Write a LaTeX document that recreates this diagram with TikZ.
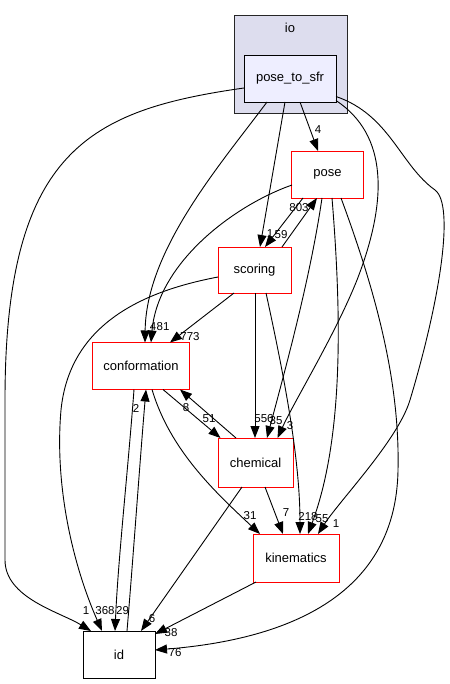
\documentclass[tikz,border=0pt]{standalone}
\usepackage{fontspec}
\setmainfont{Liberation Sans}
\usetikzlibrary{arrows.meta,calc}
\definecolor{clusterfill}{HTML}{DDDDEE}
\definecolor{ptsfrfill}{HTML}{EEEEFF}
\begin{document}
\begin{tikzpicture}[x=1pt,y=-1pt,
  dirbox/.style={draw=red, fill=white, line width=0.9pt, inner sep=0pt, minimum height=47pt, font=\fontsize{13}{15}\selectfont},
  plainbox/.style={draw=black, fill=white, line width=0.9pt, inner sep=0pt, minimum height=47pt, font=\fontsize{13}{15}\selectfont},
  edge/.style={line width=0.9pt, -{Triangle[length=12pt,width=9pt]}},
  lbl/.style={font=\fontsize{11.5}{13}\selectfont, inner sep=0pt}]
\useasboundingbox (0,0) rectangle (449,684);
% cluster
\node[draw=black!85, fill=clusterfill, line width=0.9pt, minimum width=113pt, minimum height=98pt, inner sep=0pt] (io) at (290.5,64) {};
\node[font=\fontsize{13}{15}\selectfont, inner sep=0pt] (iolabel) at (290,28) {io};
\node[plainbox, fill=ptsfrfill, minimum width=92pt] (ptsfr) at (290,78.5) {pose\_to\_sfr};
% nodes
\node[dirbox, minimum width=72pt] (pose) at (327.5,174.5) {pose};
\node[dirbox, minimum width=73pt, minimum height=46pt] (scoring) at (254.5,270) {scoring};
\node[dirbox, minimum width=97pt] (conf) at (141,366) {conformation};
\node[dirbox, minimum width=75pt, minimum height=49pt] (chem) at (255.5,462.5) {chemical};
\node[dirbox, minimum width=86pt, minimum height=48pt] (kin) at (296,558) {kinematics};
\node[plainbox, minimum width=72pt] (id) at (119,654.5) {id};
% edges
\draw[edge] ($(ptsfr)+(-46,9.5)$) .. controls (90,110) and (5,150) .. (5,400) -- (5,560) .. controls (5,598) and (60,612) .. ($(id)+(-28,-23.5)$);
\draw[edge] ($(ptsfr)+(10,23.5)$) -- ($(pose)+(-9.5,-23.5)$);
\draw[edge] ($(ptsfr)+(-5,23.5)$) -- ($(scoring)+(5.5,-23)$);
\draw[edge] ($(ptsfr)+(-23,23.5)$) .. controls (220,165) and (146,250) .. ($(conf)+(4,-23.5)$);
\draw[edge] ($(pose)+(-35.5,10.5)$) .. controls (235,205) and (158,262) .. ($(conf)+(10,-23.5)$);
\draw[edge] ($(scoring)+(-20.5,23)$) -- ($(conf)+(29,-23.5)$);
\draw[edge] ($(scoring)+(-36.5,7)$) .. controls (150,290) and (70,320) .. (61,410) .. controls (54,490) and (75,570) .. ($(id)+(-17,-23.5)$);
\draw[edge] ($(conf)+(-7,23.5)$) .. controls (128,470) and (118,560) .. ($(id)+(-4,-23.5)$);
\draw[edge] ($(id)+(8,-23.5)$) .. controls (133,560) and (140,460) .. ($(conf)+(5,23.5)$);
\draw[edge] ($(conf)+(22,23.5)$) -- ($(chem)+(-35,-24.5)$);
\draw[edge] ($(chem)+(-19.5,-24.5)$) -- ($(conf)+(39,23.5)$);
\draw[edge] ($(conf)+(11,23.5)$) .. controls (170,450) and (215,492) .. ($(kin)+(-36,-24)$);
\draw[edge] ($(chem)+(-13.5,24.5)$) -- ($(id)+(22,-23.5)$);
\draw[edge] ($(chem)+(9.5,24.5)$) -- ($(kin)+(-13,-24)$);
\draw[edge] ($(kin)+(-40,24)$) -- ($(id)+(36,-20.5)$);
\draw[edge] ($(pose)+(13.5,23.5)$) .. controls (375,290) and (400,380) .. (398,470) .. controls (396,600) and (280,640) .. ($(id)+(36,-4.5)$);
\draw[edge] ($(pose)+(4.5,23.5)$) .. controls (342,320) and (343,440) .. ($(kin)+(12,-24)$);
\draw[edge] ($(pose)+(-5.5,23.5)$) .. controls (310,280) and (285,370) .. ($(chem)+(11.5,-24.5)$);
\draw[edge] ($(pose)+(-24.5,23.5)$) -- ($(scoring)+(10.5,-23)$);
\draw[edge] ($(scoring)+(27.5,-23)$) -- ($(pose)+(-10.5,23.5)$);
\draw[edge] ($(scoring)+(0.5,23)$) -- ($(chem)+(-0.5,-24.5)$);
\draw[edge] ($(scoring)+(11.5,23)$) .. controls (285,380) and (300,460) .. ($(kin)+(4,-24)$);
\draw[edge] ($(ptsfr)+(46,22)$) .. controls (388,135) and (388,200) .. (357,280) .. controls (335,335) and (295,400) .. ($(chem)+(22,-24.5)$);
\draw[edge] ($(ptsfr)+(46,18)$) .. controls (390,115) and (400,165) .. (435,190) .. controls (455,205) and (440,300) .. (410,400) .. controls (398,440) and (340,500) .. ($(kin)+(22,-24)$);
% labels
\node[lbl] (l1) at (86,611) {1};
\node[lbl] (l2) at (318,130) {4};
\node[lbl] (l3) at (270,234) {1};
\node[lbl] (l4) at (281,235) {59};
\node[lbl] (l5) at (299,208) {803};
\node[lbl] (l6) at (153,327) {4};
\node[lbl] (l7) at (163,327) {81};
\node[lbl] (l8) at (190,337) {773};
\node[lbl] (l9) at (209,419) {51};
\node[lbl] (l10) at (186,408) {8};
\node[lbl] (l11) at (136,408) {2};
\node[lbl] (l12) at (264,419) {556};
\node[lbl] (l13) at (276,421) {35};
\node[lbl] (l14) at (290,426) {3};
\node[lbl] (l15) at (250,516) {31};
\node[lbl] (l16) at (286,513) {7};
\node[lbl] (l17) at (308,517) {218};
\node[lbl] (l18) at (322,519) {55};
\node[lbl] (l19) at (336,524) {1};
\node[lbl] (l20) at (105,611) {368};
\node[lbl] (l21) at (122.5,611) {29};
\node[lbl] (l22) at (152,619) {6};
\node[lbl] (l23) at (171,633) {38};
\node[lbl] (l24) at (175,653) {76};
\end{tikzpicture}
\end{document}
